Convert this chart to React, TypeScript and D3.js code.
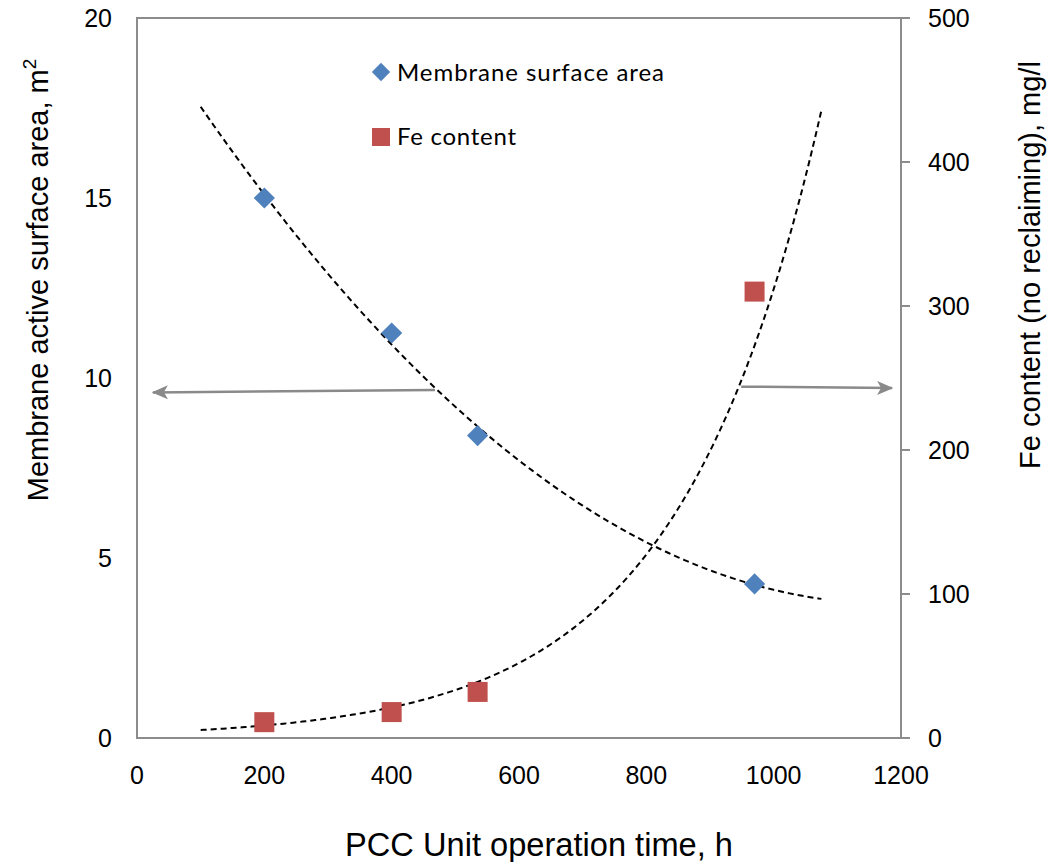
import React from 'react';
import * as d3 from 'd3';

// ---- data ----
const hours = [200, 400, 535, 970];
const membraneArea = [15.0, 11.25, 8.4, 4.28];
const feContent = [11, 18, 32, 310];
const xTicks = [0, 200, 400, 600, 800, 1000, 1200];
const leftTicks = [0, 5, 10, 15, 20];
const rightTicks = [0, 100, 200, 300, 400, 500];
const trendRange = [100, 1075];
// annotation arrows (x in hours, y in left-axis units)
const leftArrow = { from: [468, 9.67], to: [25, 9.6] };
const rightArrow = { from: [949, 9.76], to: [1186, 9.72] };

const W = 1056, H = 862;
const M = { left: 137, right: 901, top: 18, bottom: 738 };

const BLUE = '#4F81BD';
const RED = '#C0504D';
const AXIS = '#8c8c8c';
const FONT = '"Liberation Sans", Arial, sans-serif';

function polyFit2(xs: number[], ys: number[]) {
  const mx = d3.mean(xs) as number;
  const u = xs.map(x => (x - mx) / 100);
  const n = xs.length;
  const s = (f: (i: number) => number) => d3.sum(d3.range(n), f);
  const S1 = s(i => u[i]), S2 = s(i => u[i] ** 2), S3 = s(i => u[i] ** 3), S4 = s(i => u[i] ** 4);
  const T0 = s(i => ys[i]), T1 = s(i => u[i] * ys[i]), T2 = s(i => u[i] ** 2 * ys[i]);
  const A = [[n, S1, S2, T0], [S1, S2, S3, T1], [S2, S3, S4, T2]];
  for (let c = 0; c < 3; c++) {
    for (let r = c + 1; r < 3; r++) {
      const f = A[r][c] / A[c][c];
      for (let k = c; k < 4; k++) A[r][k] -= f * A[c][k];
    }
  }
  const coef = [0, 0, 0];
  for (let r = 2; r >= 0; r--) {
    let v = A[r][3];
    for (let k = r + 1; k < 3; k++) v -= A[r][k] * coef[k];
    coef[r] = v / A[r][r];
  }
  return (x: number) => {
    const t = (x - mx) / 100;
    return coef[0] + coef[1] * t + coef[2] * t * t;
  };
}

function expFit(xs: number[], ys: number[]) {
  const ls = ys.map(Math.log);
  const mx = d3.mean(xs) as number, ml = d3.mean(ls) as number;
  const b = d3.sum(xs.map((x, i) => (x - mx) * (ls[i] - ml))) / d3.sum(xs.map(x => (x - mx) ** 2));
  const a = Math.exp(ml - b * mx);
  return (x: number) => a * Math.exp(b * x);
}

export default function App() {
  const x = d3.scaleLinear().domain([0, 1200]).range([M.left, M.right]);
  const yL = d3.scaleLinear().domain([0, 20]).range([M.bottom, M.top]);
  const yR = d3.scaleLinear().domain([0, 500]).range([M.bottom, M.top]);

  const fArea = polyFit2(hours, membraneArea);
  const fFe = expFit(hours, feContent);
  const xs = d3.range(trendRange[0], trendRange[1] + 0.001, 5);
  const areaLine = d3.line<number>().x(d => x(d)).y(d => yL(fArea(d)))(xs) as string;
  const feLine = d3.line<number>().x(d => x(d)).y(d => yR(fFe(d)))(xs) as string;

  const diamond = d3.symbol().type(d3.symbolSquare).size(15 * 15)();
  const legendDiamond = d3.symbol().type(d3.symbolSquare).size(13 * 13)();

  return (
    <svg width={W} height={H} style={{ position: 'absolute', left: 0, top: 0, background: '#fff' }}
      fontFamily={FONT}>
      <defs>
        <marker id="ah" viewBox="0 0 16 14" refX="15" refY="7" markerWidth="16" markerHeight="14"
          markerUnits="userSpaceOnUse" orient="auto">
          <path d="M0,0 L16,7 L0,14 L4,7 Z" fill="#8a8a8a" />
        </marker>
      </defs>
      {/* plot border */}
      <rect x={M.left} y={M.top} width={M.right - M.left} height={M.bottom - M.top}
        fill="none" stroke={AXIS} strokeWidth={2} />
      {/* right axis ticks */}
      {rightTicks.map(t => (
        <line key={'rt' + t} x1={M.right} x2={M.right + 9} y1={yR(t)} y2={yR(t)} stroke={AXIS} strokeWidth={2} />
      ))}
      {/* tick labels */}
      {xTicks.map(t => (
        <text key={'xt' + t} x={x(t)} y={784} textAnchor="middle" fontSize={25} fill="#000">{t}</text>
      ))}
      {leftTicks.map(t => (
        <text key={'lt' + t} x={112} y={yL(t)} dy="0.35em" textAnchor="end" fontSize={25} fill="#000">{t}</text>
      ))}
      {rightTicks.map(t => (
        <text key={'rtl' + t} x={928} y={yR(t)} dy="0.35em" textAnchor="start" fontSize={25} fill="#000">{t}</text>
      ))}
      {/* axis titles */}
      <text x={539} y={856} textAnchor="middle" fontSize={33} textLength={388} lengthAdjust="spacingAndGlyphs">PCC Unit operation time, h</text>
      <text transform="translate(48,280) rotate(-90)" textAnchor="middle" fontSize={29}>
        Membrane active surface area, m<tspan fontSize={19} dy={-12}>2</tspan>
      </text>
      <text transform="translate(1040,265) rotate(-90)" textAnchor="middle" fontSize={29}>
        Fe content (no reclaiming), mg/l
      </text>
      {/* trend lines */}
      <path d={areaLine} fill="none" stroke="#000" strokeWidth={2} strokeDasharray="6,4" />
      <path d={feLine} fill="none" stroke="#000" strokeWidth={2} strokeDasharray="6,4" />
      {/* arrows */}
      <line x1={x(leftArrow.from[0])} y1={yL(leftArrow.from[1])} x2={x(leftArrow.to[0])} y2={yL(leftArrow.to[1])}
        stroke="#8a8a8a" strokeWidth={2.5} markerEnd="url(#ah)" />
      <line x1={x(rightArrow.from[0])} y1={yL(rightArrow.from[1])} x2={x(rightArrow.to[0])} y2={yL(rightArrow.to[1])}
        stroke="#8a8a8a" strokeWidth={2.5} markerEnd="url(#ah)" />
      {/* points */}
      {hours.map((h, i) => (
        <path key={'d' + i} d={diamond} transform={`translate(${x(h)},${yL(membraneArea[i])}) rotate(45)`} fill={BLUE} />
      ))}
      {hours.map((h, i) => (
        <rect key={'s' + i} x={x(h) - 10} y={yR(feContent[i]) - 10} width={20} height={20} fill={RED} />
      ))}
      {/* legend */}
      <path d={legendDiamond} transform="translate(381,72) rotate(45)" fill={BLUE} />
      <text x={397} y={81} fontSize={24} fontFamily="Lato, sans-serif" textLength={267} lengthAdjust="spacing">Membrane surface area</text>
      <rect x={372} y={128} width={18} height={18} fill={RED} />
      <text x={397} y={145} fontSize={24} fontFamily="Lato, sans-serif" textLength={119} lengthAdjust="spacing">Fe content</text>
    </svg>
  );
}
